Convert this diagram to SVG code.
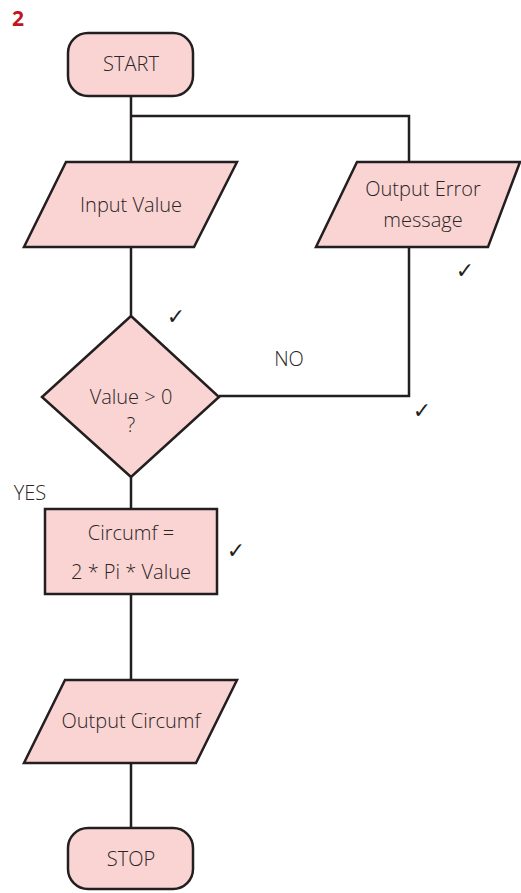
<svg xmlns="http://www.w3.org/2000/svg" width="521" height="893" viewBox="0 0 521 893">
  <style>
    .shape { fill: #fad4d2; stroke: #231f20; stroke-width: 2.5; stroke-linejoin: miter; }
    .line { fill: none; stroke: #231f20; stroke-width: 2.5; }
    .label { font-family: "Open Sans", "Noto Sans", sans-serif; font-weight: 300; font-size: 20px; fill: #2a2526; text-anchor: middle; }
    .tick { font-family: "DejaVu Sans", sans-serif; font-size: 22px; fill: #231f20; text-anchor: middle; }
    .num { font-family: "Open Sans", "Liberation Sans", sans-serif; font-weight: 700; font-size: 21px; fill: #c0161f; }
  </style>
  <rect width="521" height="893" fill="#ffffff"/>

  <text class="num" x="12" y="26">2</text>

  <!-- connectors -->
  <g id="connectors">
    <line class="line" x1="131" y1="96" x2="131" y2="162"/>
    <polyline class="line" points="131,116 409,116 409,162"/>
    <line class="line" x1="131" y1="247" x2="131" y2="316"/>
    <polyline class="line" points="409,247 409,396 219,396"/>
    <line class="line" x1="131" y1="477" x2="131" y2="509"/>
    <line class="line" x1="131" y1="594" x2="131" y2="680"/>
    <line class="line" x1="131" y1="763" x2="131" y2="828"/>
  </g>

  <g id="start">
    <rect class="shape" x="68" y="33" width="125" height="63" rx="20" ry="20"/>
    <text class="label" x="131" y="71">START</text>
  </g>

  <g id="input-value">
    <polygon class="shape" points="66,162 237,162 194,247 24,247"/>
    <text class="label" x="131" y="212">Input Value</text>
  </g>

  <g id="output-error">
    <polygon class="shape" points="357,162 520,162 488,247 316,247"/>
    <text class="label" x="423" y="196">Output Error</text>
    <text class="label" x="423" y="227">message</text>
  </g>

  <g id="decision">
    <polygon class="shape" points="131,316 219,397 131,477 42,397"/>
    <text class="label" x="131" y="404">Value &gt; 0</text>
    <text class="label" x="131" y="432">?</text>
  </g>

  <g id="calc">
    <rect class="shape" x="45" y="509" width="172" height="85"/>
    <text class="label" x="131" y="540">Circumf =</text>
    <text class="label" x="131" y="579">2 * Pi * Value</text>
  </g>

  <g id="output-circumf">
    <polygon class="shape" points="65,680 237,680 196,763 24,763"/>
    <text class="label" x="131" y="728">Output Circumf</text>
  </g>

  <g id="stop">
    <rect class="shape" x="68" y="828" width="125" height="61" rx="20" ry="20"/>
    <text class="label" x="131" y="866">STOP</text>
  </g>

  <!-- branch labels -->
  <text class="label" x="289" y="366">NO</text>
  <text class="label" x="30" y="500">YES</text>

  <!-- marks -->
  <text class="tick" x="176" y="324">✓</text>
  <text class="tick" x="465" y="278">✓</text>
  <text class="tick" x="422" y="418">✓</text>
  <text class="tick" x="236" y="558">✓</text>
</svg>
